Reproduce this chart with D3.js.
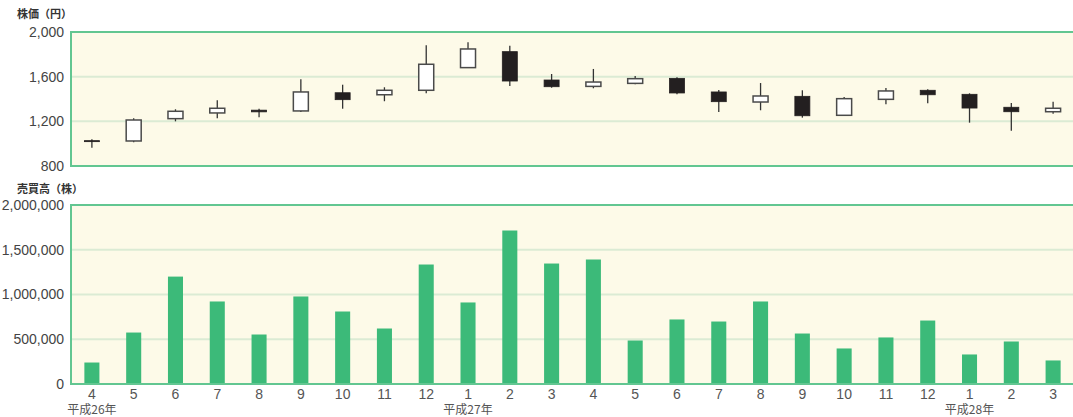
<!DOCTYPE html>
<html>
<head>
<meta charset="utf-8">
<script src="https://cdn.jsdelivr.net/npm/d3@7"></script>
<style>
  html, body { margin: 0; padding: 0; background: #fff; }
  svg { display: block; }
  text { font-family: "Liberation Sans", "Noto Sans CJK JP", sans-serif; }
  .jp { font-family: "Noto Sans CJK JP", sans-serif; }
</style>
</head>
<body>
<svg id="chart" width="1073" height="417"></svg>
<script>
// Monthly stock data, April 2014 (平成26年) to March 2016 (平成28年)
const months = [4, 5, 6, 7, 8, 9, 10, 11, 12, 1, 2, 3, 4, 5, 6, 7, 8, 9, 10, 11, 12, 1, 2, 3];
const eraLabels = [
  { index: 0, text: "平成26年" },
  { index: 9, text: "平成27年" },
  { index: 21, text: "平成28年" }
];
const openPrice  = [1027, 1024, 1224, 1275, 1300, 1293, 1456, 1438, 1478, 1681, 1824, 1570, 1513, 1540, 1585, 1463, 1373, 1424, 1254, 1397, 1478, 1442, 1326, 1286];
const highPrice  = [1040, 1227, 1308, 1388, 1313, 1576, 1528, 1505, 1881, 1908, 1877, 1624, 1669, 1606, 1594, 1481, 1543, 1478, 1418, 1498, 1487, 1451, 1364, 1376];
const lowPrice   = [ 964, 1012, 1200, 1227, 1236, 1284, 1313, 1380, 1451, 1678, 1516, 1501, 1496, 1532, 1442, 1284, 1299, 1233, 1250, 1352, 1361, 1188, 1116, 1268];
const closePrice = [1022, 1212, 1290, 1317, 1285, 1463, 1394, 1478, 1711, 1848, 1561, 1510, 1552, 1582, 1454, 1376, 1427, 1250, 1403, 1472, 1438, 1319, 1286, 1317];
const volume = [240000, 575000, 1200000, 922000, 553000, 978000, 810000, 620000, 1335000, 911000,
                1715000, 1346000, 1391000, 486000, 721000, 698000, 922000, 564000, 397000, 520000,
                709000, 330000, 475000, 263000];
const priceTicks = [800, 1200, 1600, 2000];
const volumeTicks = [0, 500000, 1000000, 1500000, 2000000];

const svg = d3.select("#chart");
const left = 71, right = 1074;
const panelFill = "#fdfae8", borderColor = "#62c691", gridColor = "#dbebd4";
const candleDark = "#231f20", candleEdge = "#4a4a4a";
const barColor = "#3cba79", labelColor = "#444";

const x = d3.scaleBand()
  .domain(d3.range(months.length))
  .range([left, right])
  .paddingInner(0.64)
  .paddingOuter(0.32);
const cx = i => x(i) + x.bandwidth() / 2;

function panel(top, bottom, scale, ticks, fmt, title, titleY) {
  const g = svg.append("g");
  g.append("rect").attr("x", left).attr("y", top)
    .attr("width", right - left).attr("height", bottom - top)
    .attr("fill", panelFill);
  // gridlines
  g.selectAll("line.grid").data(ticks.slice(1, -1)).join("line")
    .attr("class", "grid")
    .attr("x1", left).attr("x2", right)
    .attr("y1", d => scale(d)).attr("y2", d => scale(d))
    .attr("stroke", gridColor).attr("stroke-width", 2);
  // y axis labels
  const ax = g.append("g").attr("transform", `translate(${left - 7},0)`)
    .call(d3.axisLeft(scale).tickValues(ticks).tickFormat(fmt).tickSize(0).tickPadding(0));
  ax.select(".domain").remove();
  ax.selectAll("text").attr("font-size", 14).attr("fill", labelColor)
    .attr("font-family", "Liberation Sans, sans-serif");
  // title
  svg.append("text").attr("class", "jp").attr("x", 17).attr("y", titleY)
    .attr("font-size", 11).attr("font-weight", "bold").attr("fill", "#333")
    .text(title);
  return g;
}

// ---- price panel (candlesticks)
const pTop = 32, pBottom = 166;
const yP = d3.scaleLinear().domain([800, 2000]).range([pBottom, pTop]);
const gp = panel(pTop, pBottom, yP, priceTicks, d3.format(","), "株価（円）", 18);

const rising = i => closePrice[i] >= openPrice[i];
const candles = gp.selectAll("g.candle").data(months.map((m, i) => i)).join("g").attr("class", "candle");
candles.append("line")
  .attr("x1", i => cx(i)).attr("x2", i => cx(i))
  .attr("y1", i => yP(highPrice[i])).attr("y2", i => yP(lowPrice[i]))
  .attr("stroke", "#333").attr("stroke-width", 1.3);
candles.append("rect")
  .attr("x", i => cx(i) - 7.5)
  .attr("width", 15)
  .attr("y", i => yP(Math.max(openPrice[i], closePrice[i])))
  .attr("height", i => Math.max(1, Math.abs(yP(openPrice[i]) - yP(closePrice[i]))))
  .attr("fill", i => rising(i) ? "#fff" : candleDark)
  .attr("stroke", i => rising(i) ? candleEdge : candleDark)
  .attr("stroke-width", i => rising(i) ? 1.5 : 0.8);

// ---- volume panel (bars)
const vTop = 205, vBottom = 384;
const yV = d3.scaleLinear().domain([0, 2000000]).range([vBottom, vTop]);
const gv = panel(vTop, vBottom, yV, volumeTicks, d3.format(","), "売買高（株）", 193);

gv.selectAll("rect.bar").data(volume).join("rect")
  .attr("class", "bar")
  .attr("x", (d, i) => x(i))
  .attr("width", x.bandwidth())
  .attr("y", d => yV(d))
  .attr("height", d => vBottom - yV(d))
  .attr("fill", barColor);

// panel borders (left, top, bottom)
[[pTop, pBottom], [vTop, vBottom]].forEach(([t, b]) => {
  svg.append("path")
    .attr("d", `M${right},${t}H${left}V${b}H${right}`)
    .attr("fill", "none").attr("stroke", borderColor).attr("stroke-width", 2);
});

// month labels
const xAxis = svg.append("g").attr("transform", `translate(0,${vBottom})`)
  .call(d3.axisBottom(x).tickFormat(i => months[i]).tickSize(0).tickPadding(5));
xAxis.select(".domain").remove();
xAxis.selectAll("text").attr("font-size", 14).attr("fill", "#555")
  .attr("font-family", "Liberation Sans, sans-serif");

// era labels
svg.selectAll("text.era").data(eraLabels).join("text")
  .attr("class", "era jp")
  .attr("x", d => cx(d.index)).attr("y", 414)
  .attr("text-anchor", "middle")
  .attr("font-size", 12).attr("fill", "#555")
  .text(d => d.text);
</script>
</body>
</html>
